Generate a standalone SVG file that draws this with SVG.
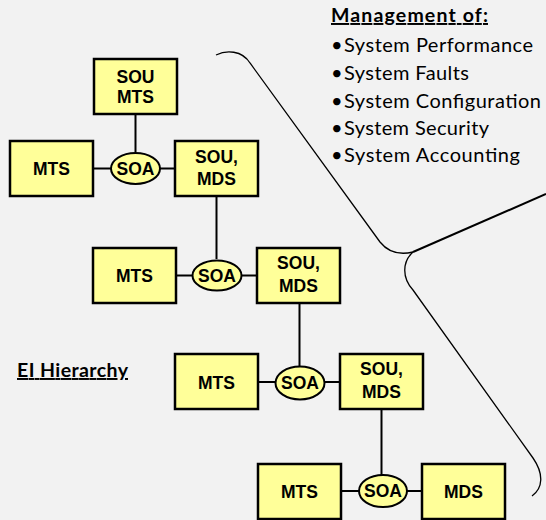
<svg xmlns="http://www.w3.org/2000/svg" width="546" height="520" viewBox="0 0 546 520">
<style>
.bg{fill:#F2F2F2}
.box{fill:#FFFF99;stroke:#000;stroke-width:2.5}
.soa{fill:#FFFF99;stroke:#000;stroke-width:2}
.lbl{font-family:"Liberation Sans",Arial,sans-serif;font-weight:bold;font-size:17.5px;fill:#000;text-anchor:middle}
.conn line{stroke:#000;stroke-width:2}
.brace{fill:none;stroke:#000;stroke-width:1.3}
.hd{font-family:Lato,"Open Sans",sans-serif;font-weight:bold;font-size:19.5px;fill:#000;text-decoration:underline}
.it{font-family:Lato,"Open Sans",sans-serif;font-size:20px;fill:#000}
</style>
<rect class="bg" x="0" y="0" width="546" height="520"/>

<g id="connectors" class="conn">
  <line x1="135.5" y1="114" x2="135.5" y2="152"/>
  <line x1="93" y1="168.5" x2="111" y2="168.5"/>
  <line x1="160" y1="168.5" x2="175" y2="168.5"/>
  <line x1="216.5" y1="196" x2="216.5" y2="259"/>
  <line x1="176" y1="275.5" x2="192.5" y2="275.5"/>
  <line x1="241.5" y1="275.5" x2="257" y2="275.5"/>
  <line x1="299.5" y1="303" x2="299.5" y2="366"/>
  <line x1="258" y1="382" x2="275" y2="382"/>
  <line x1="324.5" y1="382" x2="340" y2="382"/>
  <line x1="381.5" y1="409" x2="381.5" y2="475"/>
  <line x1="341" y1="491" x2="359" y2="491"/>
  <line x1="407" y1="491" x2="422" y2="491"/>
</g>

<g id="sou-mts-top">
  <rect class="box" x="94" y="59" width="83" height="55"/>
  <text class="lbl" x="135.5" y="83">SOU</text>
  <text class="lbl" x="135.5" y="103">MTS</text>
</g>
<g id="mts-1">
  <rect class="box" x="10" y="141" width="83" height="55"/>
  <text class="lbl" x="51.5" y="175">MTS</text>
</g>
<g id="soa-1">
  <ellipse class="soa" cx="135.5" cy="168.5" rx="24.5" ry="15.5"/>
  <text class="lbl" x="135.5" y="175">SOA</text>
</g>
<g id="sou-mds-1">
  <rect class="box" x="175" y="141" width="83" height="55"/>
  <text class="lbl" x="216.5" y="163">SOU,</text>
  <text class="lbl" x="216.5" y="185">MDS</text>
</g>

<g id="mts-2">
  <rect class="box" x="93" y="248" width="83" height="55"/>
  <text class="lbl" x="134.5" y="282">MTS</text>
</g>
<g id="soa-2">
  <ellipse class="soa" cx="217" cy="275.5" rx="24.5" ry="15"/>
  <text class="lbl" x="217" y="282">SOA</text>
</g>
<g id="sou-mds-2">
  <rect class="box" x="257" y="248" width="83" height="55"/>
  <text class="lbl" x="298.5" y="269">SOU,</text>
  <text class="lbl" x="298.5" y="291.5">MDS</text>
</g>

<g id="mts-3">
  <rect class="box" x="175" y="354" width="83" height="55"/>
  <text class="lbl" x="216.5" y="388.5">MTS</text>
</g>
<g id="soa-3">
  <ellipse class="soa" cx="300" cy="383" rx="24.5" ry="16.5"/>
  <text class="lbl" x="300" y="389">SOA</text>
</g>
<g id="sou-mds-3">
  <rect class="box" x="340" y="354" width="83" height="55"/>
  <text class="lbl" x="381.5" y="375">SOU,</text>
  <text class="lbl" x="381.5" y="397.5">MDS</text>
</g>

<g id="mts-4">
  <rect class="box" x="258" y="464" width="83" height="55"/>
  <text class="lbl" x="299.5" y="498">MTS</text>
</g>
<g id="soa-4">
  <ellipse class="soa" cx="383" cy="491" rx="24" ry="16"/>
  <text class="lbl" x="383" y="497">SOA</text>
</g>
<g id="mds-4">
  <rect class="box" x="422" y="464" width="83" height="55"/>
  <text class="lbl" x="463.5" y="498">MDS</text>
</g>

<g id="brace">
  <path class="brace" d="M216,55 C226,50 242,50 250,63 L380,242 Q392,257 413,252"/>
  <path class="brace" d="M413,252 L546,194" style="stroke-width:2"/>
  <path class="brace" d="M413,252 C402,262 402,278 413,290 L533,458 C544,474 543,488 532,496"/>
</g>

<g id="management">
  <text class="hd" x="331" y="22" textLength="157" lengthAdjust="spacing">Management of:</text>
  <text class="it" x="331" y="52">•</text><text class="it" x="344" y="52" textLength="189" lengthAdjust="spacing">System Performance</text>
  <text class="it" x="331" y="80">•</text><text class="it" x="344" y="80" textLength="125" lengthAdjust="spacing">System Faults</text>
  <text class="it" x="331" y="107.5">•</text><text class="it" x="344" y="107.5" textLength="197" lengthAdjust="spacing">System Configuration</text>
  <text class="it" x="331" y="135">•</text><text class="it" x="344" y="135" textLength="145" lengthAdjust="spacing">System Security</text>
  <text class="it" x="331" y="162">•</text><text class="it" x="344" y="162" textLength="176" lengthAdjust="spacing">System Accounting</text>
</g>

<g id="ei-hierarchy">
  <text class="hd" x="17" y="377" textLength="111" lengthAdjust="spacing">EI Hierarchy</text>
</g>
</svg>
